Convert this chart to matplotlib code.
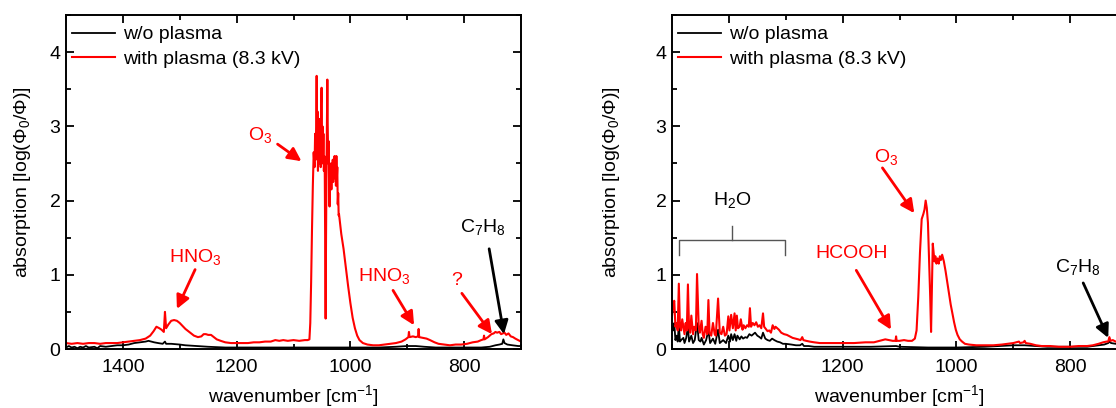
import matplotlib
matplotlib.use("Agg")
from matplotlib import pyplot as plt
from matplotlib.ticker import MultipleLocator

plt.rcParams['font.family'] = ['Liberation Sans', 'DejaVu Sans']
plt.rcParams['mathtext.default'] = 'regular'

FS = 14

# ---- left panel: spectra (wavenumber, absorption) ----
left_wn_red = [1500, 1490, 1480, 1470, 1460, 1450, 1440, 1430, 1420, 1410, 1400, 1390, 1380, 1370, 1360,
               1352, 1346, 1341, 1336, 1332, 1328, 1326, 1324, 1320, 1315, 1310, 1305, 1300, 1295, 1290,
               1285, 1280, 1275, 1268, 1262, 1258, 1254, 1250, 1245, 1240, 1235, 1228, 1220, 1210, 1200,
               1190, 1180, 1170, 1160, 1150, 1140, 1132, 1125, 1118, 1110, 1100, 1090, 1080, 1075, 1072,
               1070.5, 1069, 1067.5, 1066, 1064.5, 1063, 1062, 1061, 1060, 1059.3, 1058.6, 1057.8, 1057,
               1056.2, 1055.4, 1054.6, 1053.8, 1053, 1052.2, 1051.4, 1050.6, 1049.8, 1049, 1048.2, 1047.4,
               1046.6, 1045.8, 1045, 1044.2, 1043.5, 1042.8, 1042, 1041.2, 1040.5, 1039.8, 1039, 1038.2,
               1037.4, 1036.6, 1035.8, 1035, 1034.2, 1033.4, 1032.6, 1031.8, 1031, 1030.2, 1029.4, 1028.6,
               1027.8, 1027, 1026.2, 1025.4, 1024.6, 1023.8, 1023, 1022.2, 1021.4, 1020.6, 1020,
               1016, 1012, 1008, 1004, 1000,
               996, 992, 988, 984, 978, 970, 960, 950, 940, 930, 920, 910, 903, 898, 897, 896, 890, 885,
               881, 880, 879, 872, 866, 860, 852, 845, 835, 825, 815, 805, 795, 785, 776, 770, 766, 765,
               764, 758, 752, 748, 745, 742, 738, 735, 732, 729, 726, 722, 718, 714, 710, 705, 700]
left_abs_red = [0.08, 0.07, 0.08, 0.07, 0.08, 0.08, 0.07, 0.08, 0.08, 0.08, 0.09, 0.10, 0.11, 0.12, 0.14,
                0.18, 0.24, 0.30, 0.28, 0.26, 0.23, 0.50, 0.28, 0.33, 0.38, 0.39, 0.38, 0.35, 0.31, 0.27,
                0.24, 0.21, 0.18, 0.16, 0.17, 0.20, 0.20, 0.19, 0.19, 0.16, 0.13, 0.11, 0.09, 0.08, 0.08,
                0.08, 0.08, 0.09, 0.09, 0.10, 0.10, 0.12, 0.11, 0.12, 0.11, 0.12, 0.11, 0.12, 0.12, 0.13,
                0.35, 0.90, 1.60, 2.20, 2.65, 2.45, 2.90, 2.55, 3.00, 3.68, 2.70, 3.20, 2.40,
                3.05, 2.50, 3.10, 2.60, 2.90, 2.45, 3.30, 3.52, 2.70, 3.00, 2.50, 2.90,
                2.40, 2.60, 2.35, 1.20, 0.41, 1.50, 2.40, 3.00, 3.63, 3.00, 2.50, 2.80,
                2.20, 1.92, 2.40, 2.30, 2.50, 2.15, 2.45, 2.30, 2.55, 2.25, 2.50, 2.30,
                2.60, 2.35, 2.55, 2.20, 2.60, 2.30, 2.45, 1.95, 2.10, 1.80, 1.82,
                1.55, 1.35, 1.10, 0.85, 0.62,
                0.42, 0.28, 0.18, 0.12, 0.08, 0.06, 0.05, 0.05, 0.06, 0.07, 0.08, 0.10, 0.13, 0.16, 0.23, 0.16, 0.17, 0.16,
                0.17, 0.27, 0.16, 0.15, 0.14, 0.12, 0.09, 0.07, 0.06, 0.05, 0.06, 0.06, 0.07, 0.09, 0.10, 0.12, 0.13, 0.18,
                0.13, 0.16, 0.20, 0.21, 0.23, 0.22, 0.23, 0.20, 0.21, 0.22, 0.19, 0.21, 0.17, 0.16, 0.14, 0.12, 0.10]

left_wn_black = [1500, 1495, 1490, 1485, 1480, 1475, 1470, 1465, 1460, 1450, 1445, 1440, 1430, 1420, 1410,
                 1400, 1390, 1380, 1370, 1360, 1355, 1350, 1345, 1338, 1330, 1326, 1324, 1315, 1300, 1290,
                 1270, 1250, 1220, 1200, 1100, 1000, 950, 920, 900, 885, 870, 850, 800, 770, 755, 745,
                 738, 733, 731, 729, 724, 715, 705, 700]
left_abs_black = [0.02, 0.04, 0.02, 0.03, 0.01, 0.03, 0.02, 0.04, 0.02, 0.03, 0.01, 0.04, 0.03, 0.04, 0.05,
                  0.05, 0.06, 0.08, 0.09, 0.10, 0.11, 0.10, 0.09, 0.08, 0.07, 0.10, 0.07, 0.07, 0.06, 0.05,
                  0.04, 0.03, 0.02, 0.02, 0.02, 0.02, 0.02, 0.03, 0.04, 0.04, 0.03, 0.02, 0.02, 0.02, 0.03, 0.05,
                  0.06, 0.07, 0.13, 0.08, 0.06, 0.05, 0.04, 0.04]

# ---- right panel ----
right_wn_red = [1500, 1498, 1496, 1494, 1492, 1490, 1488, 1486, 1484, 1482, 1480, 1478, 1476, 1474, 1472,
                1470, 1468, 1466, 1463, 1461, 1458, 1456, 1453, 1451, 1448, 1446, 1444, 1441, 1438, 1436,
                1434, 1431, 1428, 1425, 1423, 1419, 1416, 1413, 1410, 1407, 1404, 1401, 1399, 1396, 1393,
                1390, 1388, 1386, 1384, 1381, 1379, 1376, 1374, 1371, 1368, 1365, 1363, 1361, 1358, 1355,
                1352, 1349, 1346, 1343, 1340, 1338, 1335, 1332, 1329, 1326, 1323, 1320, 1318, 1315, 1312,
                1308, 1303, 1298, 1293, 1288, 1283, 1278, 1274, 1271, 1269, 1264, 1258, 1250, 1240, 1220,
                1200, 1180, 1160, 1145, 1135, 1125, 1118, 1112, 1107, 1106, 1105, 1100, 1092, 1085, 1078,
                1073, 1070, 1067, 1064, 1061, 1058, 1056, 1054, 1052, 1050, 1048, 1046, 1044.5, 1043, 1041.5,
                1040, 1038.5, 1037, 1035, 1033, 1031, 1029, 1027, 1025, 1022, 1019, 1016, 1013, 1010, 1007,
                1004, 1001, 998, 994, 990, 985, 978, 965, 950, 935, 920, 910, 900, 895, 890, 888, 882, 880,
                878, 870, 860, 850, 835, 820, 800, 785, 770, 760, 750, 742, 736, 733, 731, 729, 725, 720,
                715, 700]
right_abs_red = [0.45, 0.60, 0.65, 0.30, 0.35, 0.25, 0.88, 0.30, 0.25, 0.40, 0.30, 0.20, 0.35, 0.25, 0.87,
                 0.28, 0.22, 0.45, 0.20, 0.30, 0.25, 1.01, 0.30, 0.22, 0.38, 0.20, 0.15, 0.30, 0.20, 0.66,
                 0.22, 0.18, 0.35, 0.20, 0.18, 0.68, 0.22, 0.20, 0.30, 0.18, 0.20, 0.44, 0.25, 0.46, 0.28,
                 0.48, 0.25, 0.45, 0.28, 0.30, 0.40, 0.26, 0.32, 0.28, 0.32, 0.30, 0.55, 0.30, 0.35, 0.32,
                 0.36, 0.30, 0.32, 0.28, 0.48, 0.30, 0.27, 0.24, 0.25, 0.22, 0.32, 0.27, 0.30, 0.28, 0.26,
                 0.22, 0.20, 0.19, 0.17, 0.15, 0.14, 0.13, 0.12, 0.16, 0.12, 0.11, 0.10, 0.09, 0.08, 0.08,
                 0.08, 0.08, 0.09, 0.09, 0.11, 0.13, 0.12, 0.11, 0.11, 0.17, 0.11, 0.11, 0.12, 0.11, 0.11,
                 0.14, 0.25, 0.70, 1.30, 1.75, 1.82, 1.88, 2.00, 1.90, 1.70, 1.20, 0.70, 0.23, 0.80, 1.42,
                 1.30, 1.18, 1.25, 1.15, 1.22, 1.15, 1.25, 1.20, 1.27, 1.18, 1.05, 0.90, 0.75, 0.60, 0.48,
                 0.36, 0.26, 0.19, 0.13, 0.10, 0.07, 0.06, 0.05, 0.05, 0.05, 0.06, 0.07, 0.08, 0.09, 0.10, 0.08, 0.09, 0.11,
                 0.08, 0.07, 0.05, 0.04, 0.04, 0.03, 0.03, 0.04, 0.04, 0.05, 0.07, 0.09, 0.10, 0.10, 0.16, 0.11, 0.12, 0.10,
                 0.09, 0.08]

right_wn_black = [1500, 1498, 1496, 1494, 1492, 1490, 1488, 1486, 1484, 1480, 1478, 1475, 1472, 1470, 1466,
                  1463, 1460, 1456, 1453, 1450, 1448, 1444, 1440, 1436, 1433, 1428, 1424, 1419, 1416, 1410,
                  1405, 1401, 1398, 1396, 1393, 1390, 1387, 1385, 1381, 1378, 1375, 1371, 1368, 1364, 1360,
                  1357, 1354, 1350, 1346, 1343, 1340, 1336, 1332, 1328, 1324, 1320, 1315, 1310, 1305, 1300,
                  1290, 1282, 1275, 1271, 1268, 1260, 1250, 1200, 1150, 1106, 1100, 1050, 1000, 950, 900,
                  880, 860, 840, 800, 770, 750, 740, 733, 731, 728, 720, 700]
right_abs_black = [0.30, 0.25, 0.35, 0.12, 0.18, 0.10, 0.33, 0.10, 0.12, 0.15, 0.08, 0.15, 0.30, 0.10, 0.18,
                   0.08, 0.12, 0.35, 0.12, 0.10, 0.15, 0.06, 0.12, 0.25, 0.08, 0.14, 0.07, 0.26, 0.08, 0.12,
                   0.08, 0.18, 0.10, 0.20, 0.12, 0.20, 0.11, 0.18, 0.13, 0.17, 0.14, 0.16, 0.15, 0.20, 0.18,
                   0.20, 0.22, 0.18, 0.16, 0.14, 0.22, 0.14, 0.12, 0.11, 0.14, 0.12, 0.10, 0.09, 0.07, 0.07,
                   0.06, 0.05, 0.05, 0.07, 0.04, 0.04, 0.03, 0.03, 0.03, 0.04, 0.03, 0.02, 0.02, 0.03, 0.05,
                   0.05, 0.04, 0.03, 0.03, 0.03, 0.05, 0.06, 0.08, 0.10, 0.08, 0.07, 0.06]

legend_labels = ["w/o plasma", "with plasma (8.3 kV)"]


def setup_axes(ax, ylabel_x):
    ax.set_xlim(1500, 700)
    ax.set_ylim(0, 4.5)
    ax.xaxis.set_major_locator(MultipleLocator(200))
    ax.xaxis.set_minor_locator(MultipleLocator(100))
    ax.yaxis.set_major_locator(MultipleLocator(1))
    ax.yaxis.set_minor_locator(MultipleLocator(0.5))
    ax.tick_params(which='both', direction='in', top=True, right=True, labelsize=FS, width=1.3)
    ax.tick_params(which='major', length=6)
    ax.tick_params(which='minor', length=3.5)
    ax.tick_params(axis='x', pad=7)
    ax.tick_params(axis='y', pad=4)
    for s in ax.spines.values():
        s.set_linewidth(1.4)
    ax.set_xlabel(r"wavenumber [cm$^{-1}$]", fontsize=FS, labelpad=5)
    ax.set_ylabel(r"absorption [log(Φ$_0$/Φ)]", fontsize=FS)
    ax.yaxis.set_label_coords(ylabel_x, 0.5)


def arrow(ax, tail, tip, color):
    ax.annotate("", xy=tip, xytext=tail,
                arrowprops=dict(arrowstyle='-|>', color=color, lw=2, mutation_scale=20,
                                shrinkA=0, shrinkB=0))


def main():
    fig = plt.figure(figsize=(11.16, 4.08), dpi=100)
    ax1 = fig.add_axes([66 / 1116, 59 / 408, 455 / 1116, 334 / 408])
    ax2 = fig.add_axes([672 / 1116, 59 / 408, 455 / 1116, 334 / 408])

    for ax, wb, ab, wr, ar, ylx in [(ax1, left_wn_black, left_abs_black, left_wn_red, left_abs_red, -0.073),
                                    (ax2, right_wn_black, right_abs_black, right_wn_red, right_abs_red, -0.109)]:
        ax.plot(wb, ab, color='black', lw=1.3, label=legend_labels[0])
        ax.plot(wr, ar, color='#ff0000', lw=1.5, label=legend_labels[1])
        setup_axes(ax, ylx)
        ax.legend(loc='upper left', bbox_to_anchor=(0.0, 0.985), frameon=False, fontsize=FS,
                  handlelength=2.2, handletextpad=0.45, labelspacing=0.35, borderaxespad=0,
                  borderpad=0.3)

    # left panel annotations
    ax1.text(1159, 2.88, r"O$_3$", color='red', fontsize=FS, ha='center', va='center')
    arrow(ax1, (1128, 2.76), (1086, 2.53), 'red')
    ax1.text(1272, 1.24, r"HNO$_3$", color='red', fontsize=FS, ha='center', va='center')
    arrow(ax1, (1273, 1.07), (1305, 0.54), 'red')
    ax1.text(941, 0.98, r"HNO$_3$", color='red', fontsize=FS, ha='center', va='center')
    arrow(ax1, (925, 0.79), (888, 0.32), 'red')
    ax1.text(813, 0.92, "?", color='red', fontsize=FS, ha='center', va='center')
    arrow(ax1, (804, 0.75), (751, 0.20), 'red')
    ax1.text(768, 1.64, r"C$_7$H$_8$", color='black', fontsize=FS, ha='center', va='center')
    arrow(ax1, (756, 1.35), (730, 0.20), 'black')

    # right panel annotations
    ax2.text(1394, 2.01, r"H$_2$O", color='black', fontsize=FS, ha='center', va='center')
    ax2.plot([1487, 1487, 1302, 1302], [1.27, 1.47, 1.47, 1.27], color='#555555', lw=1)
    ax2.plot([1394, 1394], [1.47, 1.66], color='#555555', lw=1)
    ax2.text(1124, 2.59, r"O$_3$", color='red', fontsize=FS, ha='center', va='center')
    arrow(ax2, (1130, 2.44), (1074, 1.83), 'red')
    ax2.text(1184, 1.29, "HCOOH", color='red', fontsize=FS, ha='center', va='center')
    arrow(ax2, (1176, 1.06), (1115, 0.26), 'red')
    ax2.text(787, 1.11, r"C$_7$H$_8$", color='black', fontsize=FS, ha='center', va='center')
    arrow(ax2, (777, 0.89), (733, 0.15), 'black')

    fig.savefig("out.png", dpi=100)


if __name__ == "__main__":
    main()
